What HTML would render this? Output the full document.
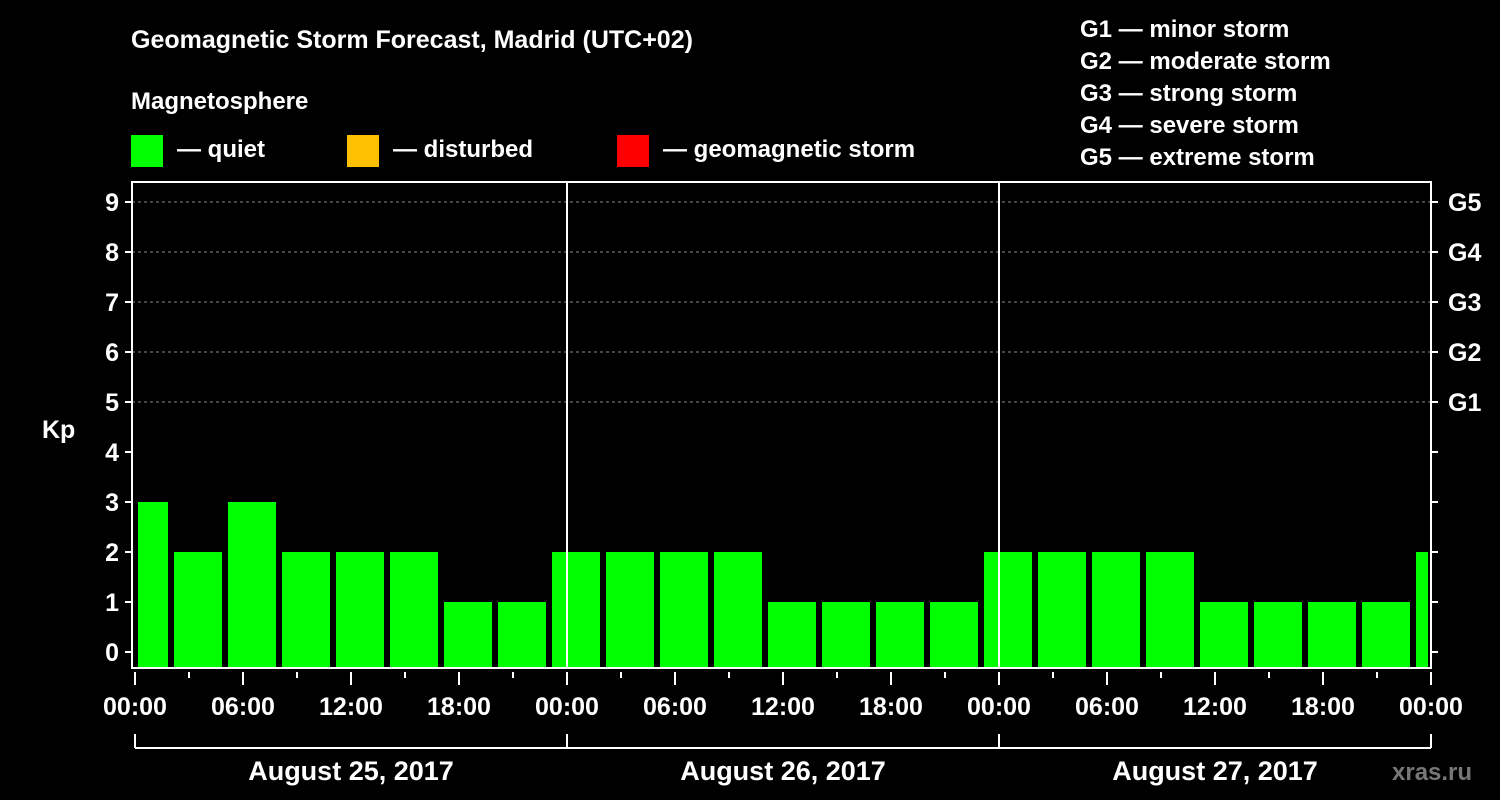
<!DOCTYPE html>
<html><head><meta charset="utf-8"><style>
body{margin:0;background:#000;}
svg{display:block;font-family:"Liberation Sans",Arial,sans-serif;font-weight:bold;}
</style></head><body>
<svg id="chart" width="1500" height="800" viewBox="0 0 1500 800" xmlns="http://www.w3.org/2000/svg">
<rect width="1500" height="800" fill="#000"/>
<text x="131" y="48" fill="#fff" font-size="25">Geomagnetic Storm Forecast, Madrid (UTC+02)</text>
<text x="131" y="109" fill="#fff" font-size="24">Magnetosphere</text>
<g><rect x="131" y="135" width="32" height="32" fill="#00ff00"/><text x="177" y="157" fill="#fff" font-size="24">— quiet</text></g>
<g><rect x="347" y="135" width="32" height="32" fill="#ffc000"/><text x="393" y="157" fill="#fff" font-size="24">— disturbed</text></g>
<g><rect x="617" y="135" width="32" height="32" fill="#ff0000"/><text x="663" y="157" fill="#fff" font-size="24">— geomagnetic storm</text></g>
<g fill="#fff" font-size="24">
<text x="1080" y="37">G1 — minor storm</text><text x="1080" y="69">G2 — moderate storm</text><text x="1080" y="101">G3 — strong storm</text><text x="1080" y="133">G4 — severe storm</text><text x="1080" y="165">G5 — extreme storm</text>
</g>
<text x="42" y="438" fill="#fff" font-size="25">Kp</text>
<g id="grid"></g><g id="bars"></g><g id="axes"></g>
<text x="1392" y="780" fill="#777" font-size="24">xras.ru</text>
</svg>
<script>
const kpValues=[3,2,3,2,2,2,1,1,2,2,2,2,1,1,1,1,2,2,2,2,1,1,1,1,2];
const yTicks=[0,1,2,3,4,5,6,7,8,9];
const gLabels=["G1","G2","G3","G4","G5"];
const gLevels=[5,6,7,8,9];
const xTickLabels=["00:00","06:00","12:00","18:00","00:00","06:00","12:00","18:00","00:00","06:00","12:00","18:00","00:00"];
const dayLabels=["August 25, 2017","August 26, 2017","August 27, 2017"];
const NS="http://www.w3.org/2000/svg";
const L=132,R=1431,T=182,B=668;
const X0=135,PXH=18;
const xh=h=>X0+h*PXH;
const y=v=>652-v*50;
function mk(tag,attrs,parent,text){const e=document.createElementNS(NS,tag);for(const k in attrs)e.setAttribute(k,attrs[k]);if(text!==undefined)e.textContent=text;document.getElementById(parent).appendChild(e);return e;}
// grid
gLevels.forEach(v=>{const e=mk('line',{x1:L,x2:R,y1:y(v),y2:y(v),stroke:'#888','stroke-dasharray':'3,3','stroke-width':1},'grid');

});
// bars: first partial bin 00:00-02:00 local, then 3h bins
kpValues.forEach((v,i)=>{let s=i===0?0:2+(i-1)*3;let e=Math.min(s+(i===0?2:3),72);
const x1=Math.max(xh(s)+3,L+4),x2=Math.min(xh(e)-3,R-1);
const r=mk('rect',{x:x1,y:y(v),width:x2-x1,height:B-y(v),fill:v>=5?'#ff0000':(v>=4?'#ffc000':'#00ff00')},'bars');

});
// day separators
[1,2].forEach(d=>{const e=mk('line',{x1:xh(d*24),x2:xh(d*24),y1:T,y2:B,stroke:'#fff','stroke-width':2},'axes');

});
// frame
const f=mk('rect',{x:L,y:T,width:R-L,height:B-T,fill:'none',stroke:'#fff','stroke-width':2},'axes');


// y ticks
yTicks.forEach(v=>{mk('line',{x1:L-7,x2:L,y1:y(v),y2:y(v),stroke:'#fff','stroke-width':2},'axes');
mk('line',{x1:R,x2:R+7,y1:y(v),y2:y(v),stroke:'#fff','stroke-width':2},'axes');
const t=mk('text',{x:L-13,y:y(v)+9,fill:'#fff','font-size':25,'text-anchor':'end'},'axes',v);

});
gLevels.forEach((v,i)=>{const t=mk('text',{x:1448,y:y(v)+9,fill:'#fff','font-size':25},'axes',gLabels[i]);

});
// x ticks
for(let h=0;h<=72;h+=3){const maj=h%6===0;mk('line',{x1:xh(h),x2:xh(h),y1:B+4,y2:B+(maj?17:10),stroke:'#fff','stroke-width':2},'axes');}
xTickLabels.forEach((s,i)=>{const t=mk('text',{x:xh(i*6),y:715,fill:'#fff','font-size':25,'text-anchor':'middle'},'axes',s);

});
// day bracket
mk('line',{x1:xh(0),x2:xh(72),y1:748,y2:748,stroke:'#fff','stroke-width':2},'axes');
for(let d=0;d<=3;d++)mk('line',{x1:xh(d*24),x2:xh(d*24),y1:734,y2:748,stroke:'#fff','stroke-width':2},'axes');
dayLabels.forEach((s,i)=>{const t=mk('text',{x:xh(i*24+12),y:780,fill:'#fff','font-size':27,'text-anchor':'middle'},'axes',s);

});
</script>
</body></html>
